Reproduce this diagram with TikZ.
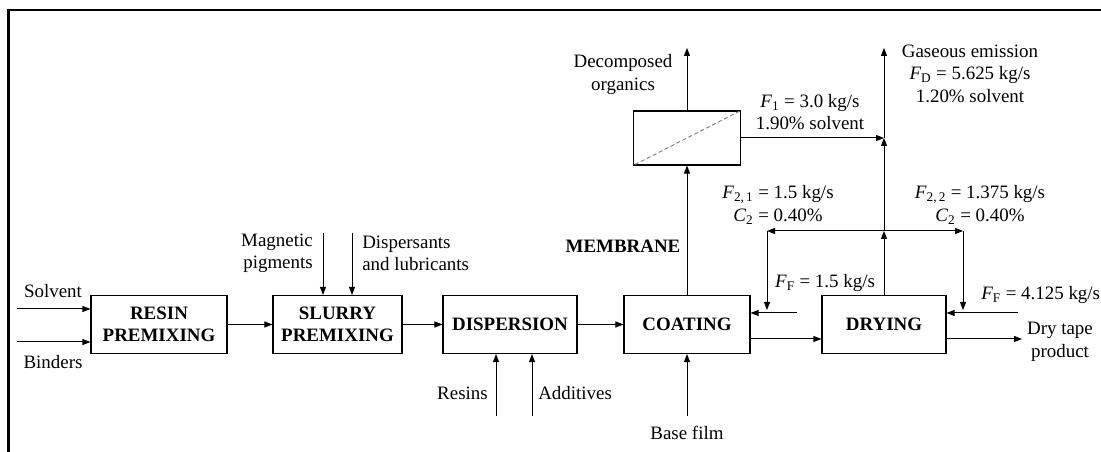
\documentclass[tikz,border=0pt]{standalone}
\usepackage{fontspec}
\setmainfont{Liberation Serif}
\usetikzlibrary{arrows.meta}
\newcommand{\lf}{\fontsize{14.2pt}{16.9pt}\selectfont}
\begin{document}
\begin{tikzpicture}[x=0.75pt,y=-0.75pt,
  proc/.style={draw, line width=0.8pt, minimum height=43.5pt, inner sep=0pt, align=center, font=\lf\bfseries},
  lbl/.style={inner sep=0pt, align=center, font=\lf},
  arr/.style={line width=0.75pt, -{Triangle[length=6pt,width=4.5pt]}},
  ln/.style={line width=0.75pt}]
\useasboundingbox (0,0) rectangle (1101,452);
\draw[line width=1.6pt] (8.5,452) -- (8.5,10) -- (1101,10);
% process boxes
\node[proc, minimum width=102pt] (resin) at (159,324.5) {RESIN\\PREMIXING};
\node[proc, minimum width=96.75pt] (slurry) at (337.5,324.5) {SLURRY\\PREMIXING};
\node[proc, minimum width=100.5pt] (disp) at (510,324.5) {DISPERSION};
\node[proc, minimum width=94.5pt] (coat) at (687,324.5) {COATING};
\node[proc, minimum width=93pt] (dry) at (884,324.5) {DRYING};
\node[draw, line width=0.8pt, minimum width=80.25pt, minimum height=40.5pt, inner sep=0pt] (memb) at (687,138) {};
\draw[dashed, dash pattern=on 3pt off 2pt, gray, line width=0.7pt] ([shift={(2,-1)}]memb.south west) -- (memb.north east);
% coordinates
\coordinate (solv) at (17,309);
\coordinate (bind) at (17,342);
\coordinate (mag) at (323,233);
\coordinate (dsp) at (352,233);
\coordinate (res) at (496,416);
\coordinate (add) at (532,416);
\coordinate (bf) at (687,416);
\coordinate (dec) at (687,48);
\coordinate (j1) at (884,138);
\coordinate (j2) at (884,231);
\coordinate (gas) at (884,48);
\coordinate (lft) at (767,231);
\coordinate (rgt) at (963,231);
\coordinate (lftD) at (767,310);
\coordinate (rgtD) at (963,310);
\coordinate (ff1) at (797,313);
\coordinate (ff2) at (1018,313);
\coordinate (y339) at (0,339);
\coordinate (prod) at (1022,339);
% connectors
\draw[arr] (solv) -- (solv -| resin.west);
\draw[arr] (bind) -- (bind -| resin.west);
\draw[arr] (resin) -- (slurry);
\draw[arr] (mag) -- (mag |- slurry.north);
\draw[arr] (dsp) -- (dsp |- slurry.north);
\draw[arr] (slurry) -- (disp);
\draw[arr] (disp) -- (coat);
\draw[arr] (res) -- (res |- disp.south);
\draw[arr] (add) -- (add |- disp.south);
\draw[arr] (bf) -- (coat.south);
\draw[arr] (coat.north) -- (memb.south);
\draw[arr] (memb.north) -- (dec);
\draw[arr] (memb.east) -- (j1);
\draw[arr] (dry.north) -- (j2);
\draw[arr] (j2) -- (j1);
\draw[arr] (j1) -- (gas);
\draw[arr] (j2) -- (lft);
\draw[arr] (j2) -- (rgt);
\draw[arr] (lft) -- (lftD);
\draw[arr] (rgt) -- (rgtD);
\draw[arr] (ff1) -- (ff1 -| coat.east);
\draw[arr] (ff2) -- (ff2 -| dry.east);
\draw[arr] (coat.east |- y339) -- (dry.west |- y339);
\draw[arr] (dry.east |- prod) -- (prod);
% labels
\node[lbl] (solvL) at (53,291) {Solvent};
\node[lbl] (bindL) at (53,362) {Binders};
\node[lbl, anchor=east, align=right] (magL) at (313,253.5) {Magnetic\\pigments};
\node[lbl, anchor=west, align=left] (dspL) at (362,253.5) {Dispersants\\and lubricants};
\node[lbl, anchor=east] (resL) at (488,393) {Resins};
\node[lbl, anchor=west] (addL) at (538,393) {Additives};
\node[lbl] (bfL) at (687,433) {Base film};
\node[lbl] (decL) at (623,74.5) {Decomposed\\organics};
\node[lbl, font=\lf\bfseries] (membL) at (623,246) {MEMBRANE};
\node[lbl] (f1L) at (810,112) {\textit{F}\textsubscript{1} = 3.0 kg/s\\1.90\% solvent};
\node[lbl] (gasL) at (970,73.5) {Gaseous emission\\\textit{F}\textsubscript{D} = 5.625 kg/s\\1.20\% solvent};
\node[lbl] (f21L) at (778,205) {\textit{F}\textsubscript{2,\,1} = 1.5 kg/s\\\textit{C}\textsubscript{2} = 0.40\%};
\node[lbl] (f22L) at (980,205) {\textit{F}\textsubscript{2,\,2} = 1.375 kg/s\\\textit{C}\textsubscript{2} = 0.40\%};
\node[lbl] (ff1L) at (825,283) {\textit{F}\textsubscript{F} = 1.5 kg/s};
\node[lbl, anchor=west] (ff2L) at (981,295) {\textit{F}\textsubscript{F} = 4.125 kg/s};
\node[lbl] (prodL) at (1060,342) {Dry tape\\product};
\end{tikzpicture}
\end{document}
